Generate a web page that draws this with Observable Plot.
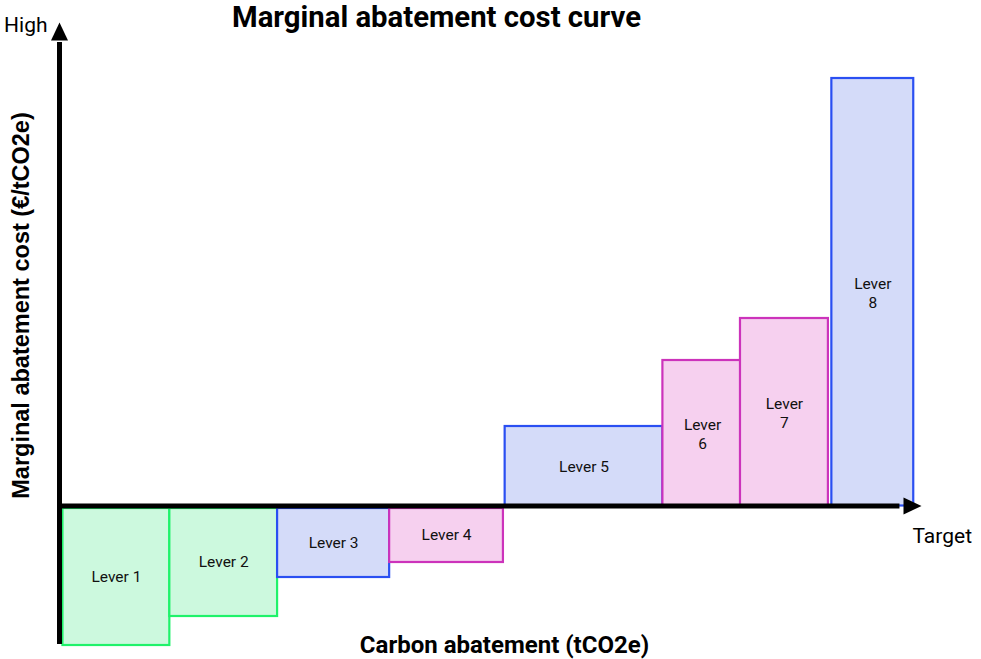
<!DOCTYPE html>
<html><head><meta charset="utf-8">
<script src="https://cdn.jsdelivr.net/npm/d3@7"></script>
<script src="https://cdn.jsdelivr.net/npm/@observablehq/plot@0.6"></script>
<style>body{margin:0;background:#fff;}</style>
</head><body><div id="chart"></div>
<script>
// ---- data ----
const levers = ["Lever 1","Lever 2","Lever 3","Lever 4","Lever 5","Lever 6","Lever 7","Lever 8"];
const labels = ["Lever 1","Lever 2","Lever 3","Lever 4","Lever 5","Lever\n6","Lever\n7","Lever\n8"];
const abatementStart = [0.4, 12.8, 25.3, 38.3, 51.7, 70.0, 79.0, 89.6];
const abatementEnd   = [12.8, 25.3, 38.3, 51.5, 70.0, 79.2, 89.2, 99.1];
const cost           = [-27.9, -22.1, -14.3, -11.3, 15.9, 29.1, 37.5, 85.5];
const group          = ["A","A","B","C","B","C","C","B"];
const title = "Marginal abatement cost curve";
const xLabel = "Carbon abatement (tCO2e)";
const yLabel = "Marginal abatement cost (€/tCO2e)";
const xEndLabel = "Target";
const yEndLabel = "High";

// ---- build ----
const palette = {
  A: {fill: "#ccf9de", stroke: "#1ff26a"},
  B: {fill: "#d4dbf9", stroke: "#2a4ff2"},
  C: {fill: "#f6d0ef", stroke: "#cc33bb"}
};
const data = levers.map((name, i) => ({
  name, label: labels[i], x1: abatementStart[i], x2: abatementEnd[i],
  cost: cost[i], group: group[i]
}));
const xDomain = [0, 100];
const yDomain = [-27.7, 96.7];
const arrowHead = {draw(ctx) { ctx.moveTo(0, 0); ctx.lineTo(8.5, 18); ctx.lineTo(-8.5, 18); ctx.closePath(); }};
const barOpts = {
  x1: "x1", x2: "x2", y1: 0, y2: "cost",
  fill: d => palette[d.group].fill, stroke: d => palette[d.group].stroke, strokeWidth: 2.2
};

const chart = Plot.plot({
  width: 981, height: 659,
  marginLeft: 59, marginRight: 60, marginTop: 22, marginBottom: 15,
  x: {domain: xDomain, axis: null},
  y: {domain: yDomain, axis: null},
  style: {fontFamily: "Roboto, sans-serif", background: "#fff", color: "#000"},
  marks: [
    Plot.rect(data.filter(d => d.cost < 0), {...barOpts, insetTop: 2.5}),
    Plot.rect(data.filter(d => d.cost >= 0), barOpts),
    Plot.text(data, {x: d => (d.x1 + d.x2) / 2, y: d => d.cost / 2, text: "label",
      fontSize: 15.5, lineHeight: 1.22, fill: "#111"}),
    Plot.ruleX([0], {y1: yDomain[0], y2: yDomain[1] - 4, strokeWidth: 5, stroke: "#000"}),
    Plot.ruleY([0], {x1: xDomain[0], x2: xDomain[1] - 2.5, strokeWidth: 5, stroke: "#000"}),
    Plot.dot([0], {x: [0], y: [yDomain[1]], symbol: arrowHead, fill: "#000", stroke: null, r: 5}),
    Plot.dot([0], {x: [xDomain[1]], y: [0], symbol: arrowHead, fill: "#000", stroke: null, r: 5, rotate: 90}),
    Plot.text([yEndLabel], {x: [0], y: [yDomain[1]], text: d => d, textAnchor: "end", dx: -12, dy: 3,
      lineAnchor: "middle", fontSize: 21}),
    Plot.text([xEndLabel], {x: [xDomain[1]], y: [0], text: d => d, textAnchor: "start", dx: -9, dy: 30,
      lineAnchor: "middle", fontSize: 21}),
    Plot.text([title], {frameAnchor: "top", dx: -54, dy: -5, lineAnchor: "middle",
      fontSize: 29.3, fontWeight: "bold"}),
    Plot.text([xLabel], {frameAnchor: "bottom", dx: 14, dy: 1, lineAnchor: "middle",
      fontSize: 24, fontWeight: "bold"}),
    Plot.text([yLabel], {frameAnchor: "left", dx: -38, dy: -28, rotate: -90, textAnchor: "middle",
      lineAnchor: "middle", fontSize: 23.5, fontWeight: "bold",
      fontFamily: "'Liberation Sans', Arial, sans-serif"})
  ]
});
document.getElementById("chart").appendChild(chart);
</script>
</body></html>
